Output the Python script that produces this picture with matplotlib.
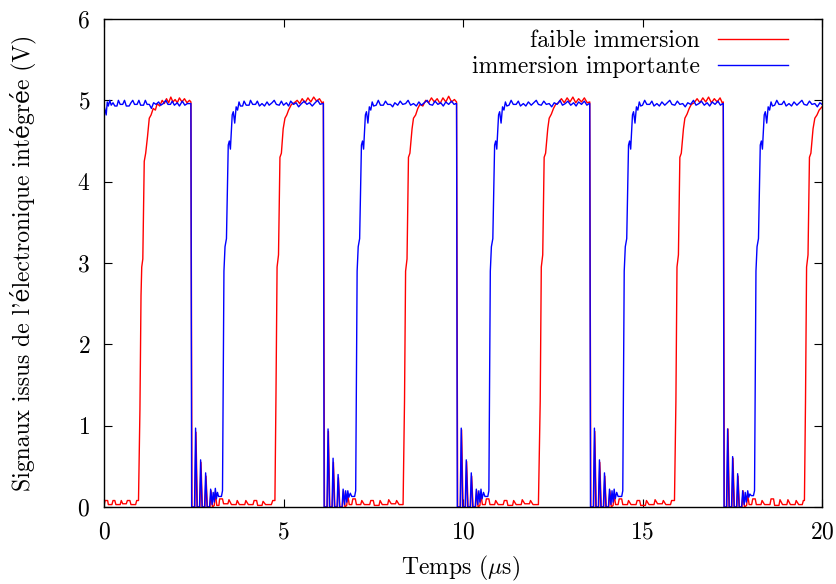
import matplotlib
matplotlib.use("Agg")
import matplotlib.pyplot as plt

# Signal samples (time in us, voltage in V)
red_c1 = [(0.00, 0.02), (0.03, 0.08), (0.10, 0.08), (0.12, 0.03), (0.22, 0.03), (0.25, 0.08), (0.30, 0.08),
          (0.33, 0.03), (0.45, 0.03), (0.48, 0.08), (0.52, 0.04), (0.62, 0.04), (0.65, 0.08), (0.72, 0.08),
          (0.75, 0.03), (0.88, 0.03), (0.91, 0.08), (0.96, 0.08),
          (1.00, 1.2), (1.03, 2.6), (1.05, 2.95), (1.08, 3.05), (1.12, 4.25), (1.16, 4.35), (1.21, 4.55),
          (1.26, 4.78), (1.31, 4.82), (1.37, 4.9), (1.43, 4.88), (1.48, 4.96),
          (1.55, 4.93), (1.62, 5.0), (1.68, 4.96), (1.74, 5.02), (1.80, 4.97), (1.86, 5.04), (1.92, 4.98),
          (1.98, 5.01), (2.04, 4.97), (2.10, 5.03), (2.17, 4.98), (2.24, 5.02), (2.31, 4.97), (2.38, 5.0)]
red_c2 = [(2.42, 4.98), (2.45, 0.0), (2.53, 0.0), (2.56, 0.92), (2.60, 0.0), (2.67, 0.0), (2.70, 0.55),
          (2.74, 0.0), (2.81, 0.0), (2.84, 0.38), (2.88, 0.0), (2.95, 0.0), (2.98, 0.2), (3.02, 0.0),
          (3.07, 0.02), (3.10, 0.18), (3.14, 0.02), (3.20, 0.02), (3.22, 0.1), (3.30, 0.1), (3.33, 0.04),
          (3.45, 0.04), (3.48, 0.09), (3.55, 0.03), (3.68, 0.03), (3.71, 0.08), (3.77, 0.03), (3.92, 0.03),
          (3.95, 0.08), (4.02, 0.03), (4.15, 0.03), (4.18, 0.08), (4.25, 0.08), (4.28, 0.02), (4.40, 0.02),
          (4.43, 0.07), (4.50, 0.03), (4.66, 0.03), (4.70, 0.08), (4.76, 0.08),
          (4.79, 1.4), (4.82, 2.95), (4.86, 3.1), (4.90, 4.3), (4.94, 4.35), (4.99, 4.65), (5.04, 4.78),
          (5.09, 4.82), (5.14, 4.88), (5.22, 4.95),
          (5.30, 4.97), (5.38, 5.0), (5.45, 4.96), (5.52, 5.02), (5.60, 4.97), (5.68, 5.03), (5.76, 4.98),
          (5.84, 5.04), (5.92, 4.99), (6.00, 5.02), (6.07, 4.97)]
red_c3 = [(6.11, 4.98), (6.14, 0.0), (6.22, 0.0), (6.25, 0.93), (6.29, 0.0), (6.36, 0.0), (6.39, 0.55),
          (6.43, 0.0), (6.50, 0.0), (6.53, 0.36), (6.57, 0.0), (6.64, 0.0), (6.67, 0.2), (6.71, 0.0),
          (6.76, 0.02), (6.79, 0.15), (6.83, 0.03), (6.90, 0.03), (6.93, 0.1), (7.00, 0.1), (7.03, 0.03),
          (7.15, 0.03), (7.18, 0.08), (7.25, 0.03), (7.40, 0.03), (7.43, 0.08), (7.50, 0.08), (7.53, 0.02),
          (7.66, 0.02), (7.69, 0.08), (7.75, 0.03), (7.90, 0.03), (7.93, 0.09), (8.00, 0.04), (8.12, 0.04),
          (8.15, 0.08), (8.22, 0.03), (8.33, 0.03),
          (8.37, 1.3), (8.40, 2.9), (8.44, 3.05), (8.48, 4.3), (8.52, 4.35), (8.58, 4.65), (8.62, 4.78),
          (8.68, 4.82), (8.74, 4.9), (8.80, 4.95),
          (8.88, 4.93), (8.96, 5.0), (9.04, 4.97), (9.12, 5.03), (9.20, 4.98), (9.28, 5.02), (9.36, 4.96),
          (9.44, 5.03), (9.52, 4.98), (9.60, 5.05), (9.68, 4.98), (9.76, 5.01)]
red_c4 = [(9.82, 4.98), (9.85, 0.0), (9.93, 0.0), (9.96, 0.95), (10.00, 0.0), (10.07, 0.0), (10.10, 0.56),
          (10.14, 0.0), (10.21, 0.0), (10.24, 0.38), (10.28, 0.0), (10.35, 0.0), (10.38, 0.2), (10.42, 0.0),
          (10.47, 0.02), (10.50, 0.15), (10.54, 0.03), (10.62, 0.03), (10.65, 0.1), (10.72, 0.1), (10.75, 0.03),
          (10.88, 0.03), (10.91, 0.08), (10.98, 0.03), (11.12, 0.03), (11.15, 0.08), (11.22, 0.08), (11.25, 0.02),
          (11.38, 0.02), (11.41, 0.08), (11.48, 0.03), (11.62, 0.03), (11.65, 0.09), (11.72, 0.04), (11.85, 0.04),
          (11.88, 0.08), (11.95, 0.03), (12.10, 0.03),
          (12.15, 1.3), (12.18, 2.95), (12.22, 3.1), (12.26, 4.3), (12.30, 4.35), (12.36, 4.65), (12.40, 4.78),
          (12.46, 4.83), (12.52, 4.9), (12.58, 4.95),
          (12.66, 4.97), (12.74, 5.02), (12.82, 4.97), (12.90, 5.03), (12.98, 4.98), (13.06, 5.04), (13.14, 4.97),
          (13.22, 5.02), (13.30, 4.98), (13.38, 5.03), (13.46, 4.97)]
red_c5 = [(13.53, 4.98), (13.56, 0.0), (13.64, 0.0), (13.67, 0.93), (13.71, 0.0), (13.78, 0.0), (13.81, 0.55),
          (13.85, 0.0), (13.92, 0.0), (13.95, 0.38), (13.99, 0.0), (14.06, 0.0), (14.09, 0.2), (14.13, 0.0),
          (14.18, 0.02), (14.21, 0.15), (14.25, 0.03), (14.32, 0.03), (14.35, 0.1), (14.42, 0.1), (14.45, 0.03),
          (14.58, 0.03), (14.61, 0.08), (14.68, 0.03), (14.82, 0.03), (14.85, 0.08), (14.92, 0.08), (14.95, 0.02),
          (15.08, 0.02), (15.11, 0.08), (15.18, 0.03), (15.32, 0.03), (15.35, 0.09), (15.42, 0.04), (15.55, 0.04),
          (15.58, 0.08), (15.65, 0.03), (15.78, 0.03), (15.81, 0.08), (15.89, 0.08),
          (15.93, 1.3), (15.96, 2.95), (16.00, 3.1), (16.04, 4.3), (16.08, 4.35), (16.14, 4.65), (16.18, 4.78),
          (16.24, 4.83), (16.30, 4.9), (16.36, 4.95),
          (16.44, 4.97), (16.52, 5.02), (16.60, 4.97), (16.68, 5.03), (16.76, 4.98), (16.84, 5.04), (16.92, 4.97),
          (17.00, 5.02), (17.08, 4.98), (17.16, 5.03), (17.22, 4.97)]
red_c6 = [(17.25, 4.98), (17.28, 0.0), (17.35, 0.0), (17.38, 0.96), (17.42, 0.0), (17.49, 0.0), (17.52, 0.6),
          (17.56, 0.0), (17.63, 0.0), (17.66, 0.38), (17.70, 0.0), (17.77, 0.0), (17.80, 0.2), (17.84, 0.0),
          (17.90, 0.02), (17.93, 0.15), (17.97, 0.03), (18.04, 0.03), (18.07, 0.1), (18.14, 0.1), (18.17, 0.03),
          (18.30, 0.03), (18.33, 0.08), (18.40, 0.03), (18.55, 0.03), (18.58, 0.1), (18.65, 0.1), (18.68, 0.02),
          (18.80, 0.02), (18.83, 0.09), (18.90, 0.03), (19.02, 0.03), (19.05, 0.09), (19.12, 0.03), (19.25, 0.03),
          (19.28, 0.08), (19.35, 0.03), (19.45, 0.03), (19.48, 0.08), (19.51, 0.08),
          (19.54, 1.3), (19.57, 2.95), (19.61, 3.1), (19.65, 4.3), (19.69, 4.35), (19.75, 4.65), (19.80, 4.78),
          (19.86, 4.82), (19.92, 4.88), (20.00, 4.92)]

blue_c1 = [(0.00, 4.93), (0.03, 4.88), (0.06, 4.82), (0.09, 4.98), (0.12, 4.93), (0.16, 5.0), (0.20, 4.94),
           (0.25, 4.97), (0.30, 4.93), (0.36, 4.93), (0.40, 5.0), (0.45, 4.95), (0.52, 4.95), (0.57, 5.0),
           (0.62, 4.93), (0.70, 4.93), (0.75, 4.97), (0.80, 5.0), (0.85, 4.95), (0.92, 4.95), (0.97, 5.0),
           (1.02, 4.94), (1.10, 4.94), (1.15, 5.0), (1.20, 4.95), (1.26, 4.95), (1.32, 4.9), (1.38, 4.97),
           (1.45, 4.95), (1.52, 4.98), (1.58, 4.94), (1.65, 4.96), (1.72, 5.0), (1.78, 4.95), (1.85, 4.95),
           (1.90, 4.99), (1.96, 4.94), (2.04, 4.97), (2.10, 4.93), (2.18, 4.99), (2.25, 4.94), (2.32, 4.96),
           (2.38, 4.96)]
blue_c2 = [(2.42, 4.96), (2.44, 0.0), (2.52, 0.0), (2.55, 0.97), (2.59, 0.0), (2.66, 0.0), (2.69, 0.58),
           (2.73, 0.0), (2.80, 0.0), (2.83, 0.42), (2.87, 0.0), (2.94, 0.0), (2.97, 0.22), (3.01, 0.03),
           (3.04, 0.18), (3.07, 0.06), (3.10, 0.23), (3.13, 0.1), (3.16, 0.18), (3.19, 0.13), (3.27, 0.13),
           (3.30, 0.2),
           (3.34, 2.9), (3.37, 3.2), (3.41, 3.3), (3.46, 4.45), (3.49, 4.5), (3.52, 4.4), (3.57, 4.82),
           (3.60, 4.86), (3.64, 4.72), (3.68, 4.92), (3.72, 4.88), (3.76, 4.98), (3.80, 4.93),
           (3.86, 4.93), (3.90, 4.99), (3.96, 4.94), (4.04, 4.94), (4.08, 5.0), (4.14, 4.95), (4.22, 4.95),
           (4.27, 4.99), (4.33, 4.93), (4.40, 4.96), (4.47, 4.93), (4.54, 4.98), (4.60, 4.94), (4.68, 4.97),
           (4.74, 5.0), (4.80, 4.95), (4.88, 4.94), (4.94, 4.99), (5.00, 4.94), (5.08, 4.97), (5.14, 4.93),
           (5.20, 4.99), (5.28, 4.95), (5.35, 4.97), (5.42, 4.92), (5.50, 4.96), (5.58, 4.99), (5.65, 4.95),
           (5.72, 4.97), (5.80, 4.93), (5.88, 4.97), (5.95, 5.0), (6.02, 4.95), (6.08, 4.96)]
blue_c3 = [(6.11, 4.96), (6.13, 0.0), (6.21, 0.0), (6.24, 0.96), (6.28, 0.0), (6.35, 0.0), (6.38, 0.6),
           (6.42, 0.0), (6.49, 0.0), (6.52, 0.4), (6.56, 0.0), (6.63, 0.0), (6.66, 0.22), (6.70, 0.03),
           (6.73, 0.2), (6.76, 0.06), (6.79, 0.2), (6.82, 0.12), (6.86, 0.17), (6.90, 0.13), (6.98, 0.13),
           (7.01, 0.2),
           (7.05, 2.9), (7.08, 3.2), (7.12, 3.3), (7.17, 4.45), (7.20, 4.5), (7.23, 4.4), (7.28, 4.82),
           (7.31, 4.86), (7.35, 4.72), (7.39, 4.92), (7.43, 4.88), (7.47, 4.98), (7.51, 4.93),
           (7.58, 4.94), (7.64, 5.0), (7.70, 4.94), (7.78, 4.94), (7.84, 4.99), (7.90, 4.95), (7.98, 4.95),
           (8.04, 4.92), (8.10, 4.97), (8.18, 4.94), (8.25, 4.99), (8.32, 4.95), (8.40, 4.96), (8.47, 5.0),
           (8.54, 4.94), (8.62, 4.96), (8.70, 4.93), (8.77, 4.98), (8.84, 4.94), (8.92, 4.97), (9.00, 5.0),
           (9.07, 4.95), (9.15, 4.94), (9.22, 4.99), (9.30, 4.95), (9.38, 4.97), (9.45, 4.93), (9.52, 4.98),
           (9.60, 4.95), (9.68, 4.99), (9.75, 4.95), (9.80, 4.96)]
blue_c4 = [(9.82, 4.96), (9.84, 0.0), (9.92, 0.0), (9.95, 0.97), (9.99, 0.0), (10.06, 0.0), (10.09, 0.58),
           (10.13, 0.0), (10.20, 0.0), (10.23, 0.42), (10.27, 0.0), (10.34, 0.0), (10.37, 0.22), (10.41, 0.03),
           (10.44, 0.2), (10.47, 0.06), (10.50, 0.22), (10.53, 0.1), (10.57, 0.18), (10.61, 0.13), (10.69, 0.13),
           (10.72, 0.2),
           (10.76, 2.9), (10.79, 3.2), (10.83, 3.3), (10.88, 4.45), (10.91, 4.5), (10.94, 4.4), (10.99, 4.82),
           (11.02, 4.86), (11.06, 4.72), (11.10, 4.92), (11.14, 4.88), (11.18, 4.98), (11.22, 4.93),
           (11.28, 4.94), (11.34, 5.0), (11.40, 4.95), (11.48, 4.95), (11.54, 4.99), (11.60, 4.93), (11.68, 4.96),
           (11.75, 4.93), (11.82, 4.98), (11.90, 4.94), (11.97, 4.97), (12.04, 5.0), (12.10, 4.95), (12.18, 4.94),
           (12.25, 4.99), (12.32, 4.95), (12.40, 4.96), (12.47, 4.92), (12.54, 4.97), (12.62, 4.95), (12.70, 5.0),
           (12.77, 4.94), (12.85, 4.96), (12.92, 4.99), (13.00, 4.94), (13.08, 4.97), (13.15, 4.93), (13.22, 4.98),
           (13.30, 4.95), (13.38, 4.99), (13.45, 4.94), (13.51, 4.96)]
blue_c5 = [(13.53, 4.96), (13.55, 0.0), (13.63, 0.0), (13.66, 0.97), (13.70, 0.0), (13.77, 0.0), (13.80, 0.58),
           (13.84, 0.0), (13.91, 0.0), (13.94, 0.42), (13.98, 0.0), (14.05, 0.0), (14.08, 0.22), (14.12, 0.03),
           (14.15, 0.2), (14.18, 0.06), (14.21, 0.22), (14.24, 0.1), (14.28, 0.18), (14.32, 0.13), (14.42, 0.13),
           (14.45, 0.2),
           (14.49, 2.9), (14.52, 3.2), (14.56, 3.3), (14.61, 4.45), (14.64, 4.5), (14.67, 4.4), (14.72, 4.82),
           (14.75, 4.86), (14.79, 4.72), (14.83, 4.92), (14.87, 4.88), (14.91, 4.98), (14.95, 4.93),
           (15.00, 4.94), (15.06, 5.0), (15.12, 4.95), (15.20, 4.95), (15.26, 4.99), (15.32, 4.93), (15.40, 4.96),
           (15.47, 4.93), (15.54, 4.98), (15.62, 4.94), (15.69, 4.97), (15.76, 5.0), (15.82, 4.95), (15.90, 4.94),
           (15.97, 4.99), (16.04, 4.95), (16.12, 4.96), (16.19, 4.92), (16.26, 4.97), (16.34, 4.95), (16.42, 5.0),
           (16.49, 4.94), (16.57, 4.96), (16.64, 4.99), (16.72, 4.94), (16.80, 4.97), (16.87, 4.93), (16.94, 4.98),
           (17.02, 4.95), (17.10, 4.99), (17.17, 4.94), (17.23, 4.96)]
blue_c6 = [(17.25, 4.96), (17.27, 0.0), (17.34, 0.0), (17.37, 0.96), (17.41, 0.0), (17.48, 0.0), (17.51, 0.62),
           (17.55, 0.0), (17.62, 0.0), (17.65, 0.41), (17.69, 0.0), (17.76, 0.0), (17.79, 0.2), (17.83, 0.03),
           (17.86, 0.18), (17.89, 0.06), (17.93, 0.2), (17.96, 0.12), (17.99, 0.16), (18.03, 0.14), (18.09, 0.14),
           (18.12, 0.2),
           (18.16, 2.9), (18.19, 3.2), (18.23, 3.3), (18.28, 4.45), (18.31, 4.5), (18.34, 4.4), (18.39, 4.82),
           (18.42, 4.86), (18.46, 4.72), (18.50, 4.92), (18.54, 4.88), (18.58, 4.98), (18.62, 4.93),
           (18.68, 4.94), (18.74, 5.0), (18.80, 4.95), (18.88, 4.95), (18.94, 4.99), (19.00, 4.93), (19.08, 4.96),
           (19.15, 4.93), (19.22, 4.98), (19.30, 4.94), (19.37, 4.97), (19.44, 5.0), (19.50, 4.95), (19.58, 4.94),
           (19.65, 4.99), (19.72, 4.95), (19.80, 4.96), (19.87, 4.92), (19.94, 4.97), (20.00, 4.95)]

red_label = "faible immersion"
blue_label = "immersion importante"
x_ticks = [0, 5, 10, 15, 20]
y_ticks = [0, 1, 2, 3, 4, 5, 6]

plt.rcParams["font.family"] = ["cmr10", "DejaVu Serif"]
plt.rcParams["mathtext.fontset"] = "cm"
plt.rcParams["axes.unicode_minus"] = False
plt.rcParams["axes.formatter.use_mathtext"] = True

red = red_c1 + red_c2 + red_c3 + red_c4 + red_c5 + red_c6
blue = blue_c1 + blue_c2 + blue_c3 + blue_c4 + blue_c5 + blue_c6

fs = 17

fig = plt.figure(figsize=(8.37, 5.84), dpi=100)
ax = fig.add_axes([0.1243, 0.1318, 0.8578, 0.8357])

ax.plot([p[0] for p in red], [p[1] for p in red], color="#ff0000", lw=1.0, label=red_label)
ax.plot([p[0] for p in blue], [p[1] for p in blue], color="#0000ff", lw=1.0, label=blue_label)

ax.set_xlim(0, 20)
ax.set_ylim(0, 6)
ax.set_xticks(x_ticks)
ax.set_yticks(y_ticks)
ax.tick_params(direction="in", top=True, right=True, length=6, width=0.8, labelsize=fs)
ax.tick_params(axis="x", pad=10)
ax.tick_params(axis="y", pad=10)
for s in ax.spines.values():
    s.set_linewidth(1.0)

ax.set_xlabel(r"Temps ($\mu$s)", fontsize=fs)
ax.set_ylabel("Signaux issus de l'électronique intégrée (V)", fontsize=fs)
ax.xaxis.set_label_coords(0.496, -0.097)
ax.yaxis.set_label_coords(-0.095, 0.5)

ax.legend(loc="upper right", bbox_to_anchor=(0.9526, 0.977), frameon=False, markerfirst=False,
          borderaxespad=0, borderpad=0, handlelength=2.97, handletextpad=0.76, labelspacing=0.15,
          fontsize=fs)

fig.savefig("out.png", dpi=100)
